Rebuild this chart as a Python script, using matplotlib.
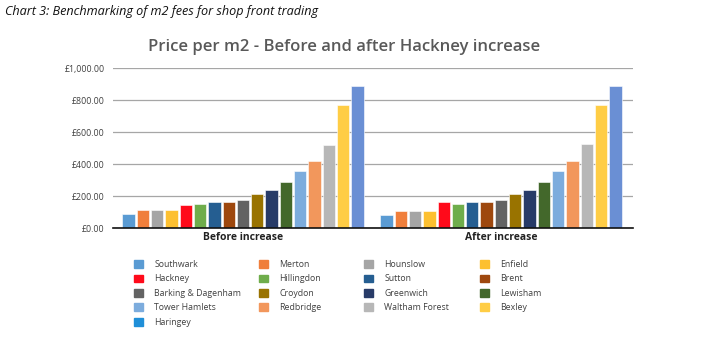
import matplotlib.pyplot as plt
import matplotlib.patches as mpatches
import numpy as np

plt.rcParams['font.family'] = ['Open Sans', 'DejaVu Sans']

# Boroughs in plotting order (lowest to highest)
boroughs = ['Southwark', 'Merton', 'Hounslow', 'Enfield', 'Hackney', 'Hillingdon',
            'Sutton', 'Brent', 'Barking & Dagenham', 'Croydon', 'Greenwich',
            'Lewisham', 'Tower Hamlets', 'Redbridge', 'Waltham Forest', 'Bexley',
            'Haringey']
groups = ['Before increase', 'After increase']
before = [88, 113, 113, 113, 144, 150, 163, 163, 175, 213, 238, 288, 357, 420, 520, 771, 892]
after = [81, 107, 107, 107, 163, 150, 163, 163, 175, 213, 238, 288, 357, 420, 526, 771, 892]
y_ticks = [0, 200, 400, 600, 800, 1000]

bar_colors = ['#5a9bd3', '#f07f3c', '#a5a5a5', '#fdc030', '#ff0a1a', '#6fad4b',
              '#255e91', '#9e480e', '#636363', '#997300', '#283b68', '#43682b',
              '#7cacdd', '#f2975c', '#b7b7b7', '#ffcd45', '#6a8fd4']
legend_colors = bar_colors[:-1] + ['#1f8fd8']

fig = plt.figure(figsize=(7.09, 3.37), dpi=100)
ax = fig.add_axes([113/709, 1 - 228.3/337, 520/709, 160/337])

n = len(boroughs)
slot = 0.0555
offsets = (np.arange(n) - (n - 1) / 2) * slot
for gi, vals in enumerate([before, after]):
    ax.bar(gi + offsets, vals, width=slot * 0.86, color=bar_colors,
           edgecolor='white', linewidth=0.4, zorder=3)

ax.set_xlim(-0.504, 1.512)
ax.set_ylim(0, 1000)
ax.set_yticks(y_ticks)
ax.set_yticklabels([f'£{v:,.2f}' for v in y_ticks], fontsize=6.3, color='#404040')
ax.set_xticks([0, 1])
ax.set_xticklabels(groups, fontsize=7.5, fontweight='bold', color='#222222')
ax.tick_params(axis='y', length=0, pad=6)
ax.tick_params(axis='x', length=0, pad=3)
ax.grid(axis='y', color='#a6a6a6', linewidth=0.9, zorder=0)
for side in ['top', 'right', 'left']:
    ax.spines[side].set_visible(False)
ax.spines['bottom'].set_color('#111111')
ax.spines['bottom'].set_linewidth(1.2)
ax.spines['bottom'].set_zorder(4)

fig.text(344/709, 1 - 47/337, 'Price per m2 - Before and after Hackney increase',
         ha='center', va='center', fontsize=12, fontweight='semibold', color='#595959')
fig.text(5/709, 1 - 12/337, 'Chart 3: Benchmarking of m2 fees for shop front trading',
         ha='left', va='center', fontsize=9.1, style='italic', color='#111111')

# Legend laid out row by row, one legend per column
ncol = 4
col_x = [134, 259, 364, 480]
for c in range(ncol):
    idx = list(range(c, n, ncol))
    handles = [mpatches.Patch(color=legend_colors[i], label=boroughs[i]) for i in idx]
    fig.legend(handles=handles, ncol=1, loc='upper left',
               bbox_to_anchor=(col_x[c]/709, 1 - 260/337), frameon=False,
               fontsize=6.3, labelcolor='#404040', handlelength=1.0, handleheight=1.0,
               handletextpad=1.3, labelspacing=0.62, borderpad=0, borderaxespad=0)

fig.savefig('out.png', dpi=100)
